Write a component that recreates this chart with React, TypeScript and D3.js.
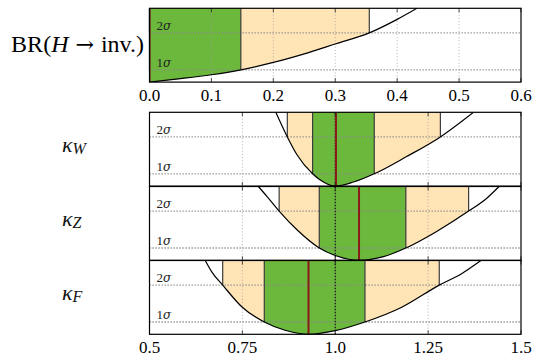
import React from "react";
import * as d3 from "d3";

// chi^2 profiles: [value, delta chi2]
const brCurve = [[0, 0], [0.05, 0.28], [0.1, 0.6], [0.1475, 1], [0.2, 1.6], [0.25, 2.3], [0.3, 3.1], [0.355, 4], [0.4, 5.1], [0.432, 6]];
const kwCurve = [[0.84, 6], [0.871, 4], [0.897, 2.55], [0.939, 1], [0.968, 0.33], [1.0, 0], [1.049, 0.33], [1.105, 1], [1.192, 2.4], [1.283, 4], [1.372, 6]];
const kzCurve = [[0.793, 6], [0.816, 5.2], [0.849, 4], [0.897, 2.48], [0.957, 1], [1.004, 0.35], [1.064, 0], [1.13, 0.3], [1.19, 1], [1.273, 2.35], [1.359, 4], [1.408, 5.05], [1.441, 6]];
const kfCurve = [[0.65, 6], [0.668, 5.06], [0.697, 4], [0.749, 2.22], [0.809, 1], [0.865, 0.33], [0.928, 0], [1.0, 0.3], [1.08, 1], [1.179, 2.2], [1.28, 4], [1.34, 4.93], [1.392, 6]];

const curves = [brCurve, kwCurve, kzCurve, kfCurve];
const greenBands = [[0, 0.1475], [0.939, 1.105], [0.957, 1.19], [0.809, 1.08]];
const orangeBands = [[0, 0.355], [0.871, 1.283], [0.849, 1.359], [0.697, 1.28]];
const bestFits = [0, 1.002, 1.064, 0.928];

const topTicks = [0, 0.1, 0.2, 0.3, 0.4, 0.5, 0.6];
const topTickLabels = ["0.0", "0.1", "0.2", "0.3", "0.4", "0.5", "0.6"];
const botTicks = [0.5, 0.75, 1.0, 1.25, 1.5];
const botTickLabels = ["0.5", "0.75", "1.0", "1.25", "1.5"];

const sigmaLevels = [1, 4];
const sigmaLabels = ["1σ", "2σ"];
const kappaSubs = ["W", "Z", "F"];

const GREEN = "#6bb83d";
const ORANGE = "#ffe4b5";
const RED = "#8c1a1a";
const EDGE = "#3c3c3c";
const FONT = "Liberation Serif, serif";
const MATH = "DejaVu Serif, serif";

const left = 149.5, right = 521;
const panelTops = [8.3, 112.3, 186.5, 260.5];   // y of each panel box
const panelH = 73.8;

function Panel({ idx }: { idx: number }) {
    const isTop = idx == 0;
    const x = d3.scaleLinear().domain(isTop ? [0, 0.6] : [0.5, 1.5]).range([left, right]);
    const y0 = panelTops[idx], y1 = panelTops[idx] + panelH;
    const y = d3.scaleLinear().domain([0, 6]).range([y1, y0]);
    const ticks = isTop ? topTicks : botTicks;

    const area = d3.area<number[]>()
        .x((d) => x(d[0]))
        .y0(y0)
        .y1((d) => y(d[1]))
        .curve(d3.curveMonotoneX);
    const line = d3.line<number[]>()
        .x((d) => x(d[0]))
        .y((d) => y(d[1]))
        .curve(d3.curveMonotoneX);

    const data = curves[idx];
    const g = greenBands[idx], o = orangeBands[idx];
    const id = "p" + idx;

    return (
        <g>
            <defs>
                <clipPath id={id + "box"}><rect x={left} y={y0} width={right - left} height={panelH} /></clipPath>
                <clipPath id={id + "o"}><rect x={x(o[0])} y={y0} width={x(o[1]) - x(o[0])} height={panelH} /></clipPath>
                <clipPath id={id + "g"}><rect x={x(g[0])} y={y0} width={x(g[1]) - x(g[0])} height={panelH} /></clipPath>
            </defs>
            <rect x={left} y={y0} width={right - left} height={panelH} fill="white" />
            <path d={area(data) || ""} fill={ORANGE} clipPath={`url(#${id}o)`} />
            <path d={area(data) || ""} fill={GREEN} clipPath={`url(#${id}g)`} />

            {/* vertical grid */}
            {ticks.slice(1, -1).map((t) => (
                <line key={"v" + t} x1={x(t)} x2={x(t)} y1={y0} y2={y1}
                    stroke="#a0a0a0" strokeWidth={0.8} strokeDasharray="1,2.2" />
            ))}
            {/* sigma levels */}
            {sigmaLevels.map((s) => (
                <line key={"h" + s} x1={left} x2={right} y1={y(s)} y2={y(s)}
                    stroke="#8a8a8a" strokeWidth={1.3} strokeDasharray="1.3,1.7" />
            ))}

            {/* band edges */}
            {[o[0], o[1]].map((v, i) => (
                <line key={"oe" + i} x1={x(v)} x2={x(v)} y1={y(4)} y2={y0} stroke={EDGE} strokeWidth={1.2} />
            ))}
            {[g[0], g[1]].map((v, i) => (
                <line key={"ge" + i} x1={x(v)} x2={x(v)} y1={y(1)} y2={y0} stroke={EDGE} strokeWidth={1.2} />
            ))}

            {!isTop && (
                <line x1={x(1)} x2={x(1)} y1={y1} y2={y0} stroke="#111" strokeWidth={1.2} strokeDasharray="1.5,1.5" />
            )}
            <line x1={x(bestFits[idx])} x2={x(bestFits[idx])} y1={y(0)} y2={y0}
                stroke={RED} strokeWidth={2} clipPath={`url(#${id}box)`} />

            <path d={line(data) || ""} fill="none" stroke="black" strokeWidth={1.2} clipPath={`url(#${id}box)`} />

            {/* inner ticks */}
            {ticks.map((t) => (
                <g key={"t" + t}>
                    <line x1={x(t)} x2={x(t)} y1={y1} y2={y1 - 4} stroke="#222" strokeWidth={0.8} />
                    <line x1={x(t)} x2={x(t)} y1={y0} y2={y0 + 4} stroke="#222" strokeWidth={0.8} />
                </g>
            ))}

            <rect x={left} y={y0} width={right - left} height={panelH} fill="none" stroke="black" strokeWidth={1.2} />

            {sigmaLevels.map((s, i) => (
                <text key={"sl" + s} x={left + 7} y={y(s) - 2.8} fontFamily={FONT} fontSize={13} fill="#222">
                    {sigmaLabels[i].slice(0, 1)}<tspan fontFamily={MATH} fontStyle="italic" fontSize={12}>{sigmaLabels[i].slice(1)}</tspan>
                </text>
            ))}

            {isTop ? (
                <text x={144} y={51.7} textAnchor="end" fontFamily={FONT} fontSize={24}>
                    BR(<tspan fontStyle="italic">H</tspan><tspan fontFamily={MATH} fontSize={22}> → </tspan>inv.)
                </text>
            ) : (
                <text x={62} y={y0 + panelH / 2 + 2.5} fontFamily={FONT} fontSize={22} fontStyle="italic" fill="#111">
                    κ<tspan fontSize={16} dy={2.5}>{kappaSubs[idx - 1]}</tspan>
                </text>
            )}

            {(isTop || idx == 3) && ticks.map((t, i) => (
                <text key={"tl" + t} x={x(t)} y={y1 + 19} textAnchor="middle" fontFamily={FONT} fontSize={17}>
                    {(isTop ? topTickLabels : botTickLabels)[i]}
                </text>
            ))}
        </g>
    );
}

export default function App() {
    return (
        <svg width={540} height={364} style={{ position: "absolute", left: 0, top: 0, background: "white" }}>
            {[0, 1, 2, 3].map((i) => <Panel key={i} idx={i} />)}
        </svg>
    );
}
